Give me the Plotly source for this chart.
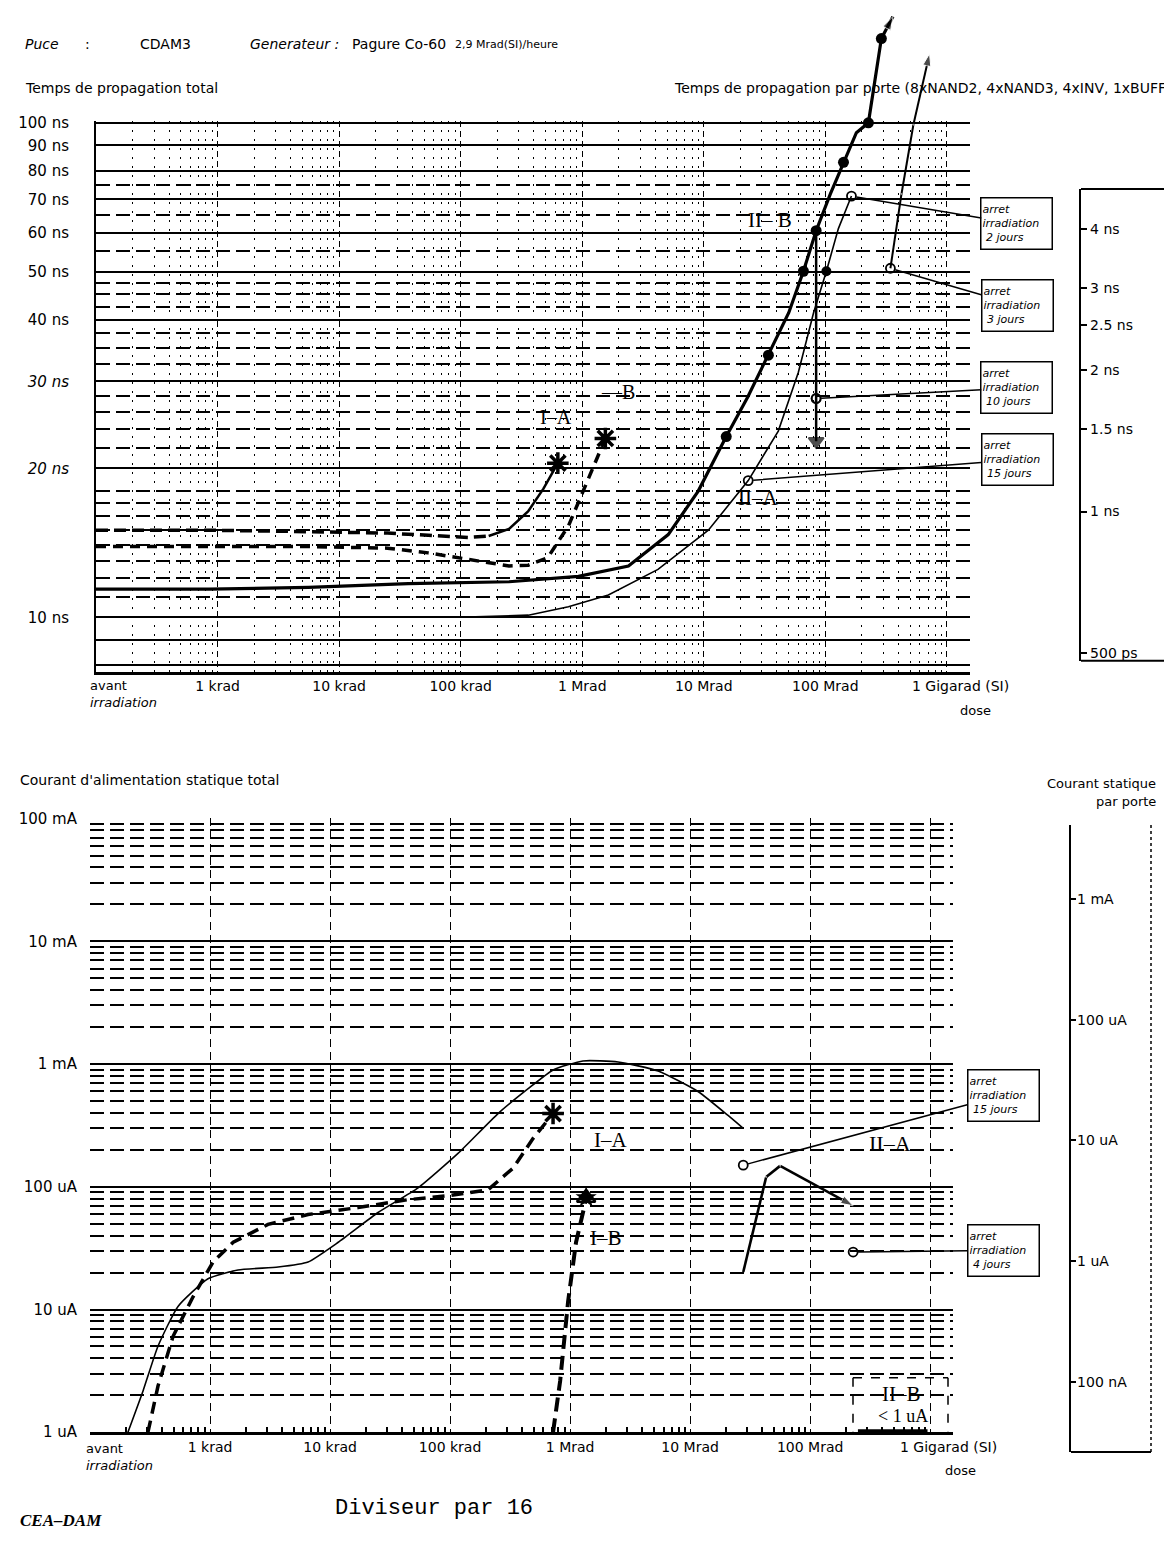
import math
import plotly.graph_objects as go

W, H = 1172, 1545

# ---------------- data ----------------
# dose in rad(Si); 100 rad is the "avant irradiation" position
xtick_doses = [1e2, 1e3, 1e4, 1e5, 1e6, 1e7, 1e8, 1e9]
xtick_text = ["", "1 krad", "10 krad", "100 krad", "1 Mrad", "10 Mrad", "100 Mrad", ""]

top_tick_vals = [8, 9, 10, 20, 30, 40, 50, 60, 70, 80, 90, 100]
top_tick_text = ["", "", "10 ns", "<i>20 ns</i>", "<i>30 ns</i>", "40 ns", "50 ns", "60 ns",
                 "70 ns", "80 ns", "90 ns", "100 ns"]
top_minor_vals = [11, 12, 13, 14, 15, 16, 17, 18, 22, 24, 26, 28, 32.5, 35, 37.5,
                  42.5, 45, 47.5, 55, 65, 75]

gate_tick_vals = [0.5, 1, 1.5, 2, 2.5, 3, 4]
gate_tick_text = ["500 ps", "1 ns", "1.5 ns", "2 ns", "2.5 ns", "3 ns", "4 ns"]

bot_tick_vals = [1e-6, 1e-5, 1e-4, 1e-3, 1e-2, 1e-1]
bot_tick_text = ["1 uA", "10 uA", "100 uA", "1 mA", "10 mA", "100 mA"]
gate_cur_vals = [1e-7, 1e-6, 1e-5, 1e-4, 1e-3]
gate_cur_text = ["100 nA", "1 uA", "10 uA", "100 uA", "1 mA"]

# --- top panel: total propagation time (ns)
dose_IA_top = [100, 850, 5600, 25000, 54000, 115000, 170000, 250000, 360000, 480000, 630000]
t_IA_top = [15.0, 15.0, 14.9, 14.8, 14.65, 14.5, 14.6, 15.1, 16.4, 18.2, 20.5]

dose_IB_top = [100, 850, 5600, 25000, 54000, 115000, 250000, 360000, 520000, 770000,
               1.02e6, 1.35e6, 1.55e6]
t_IB_top = [13.9, 13.9, 13.9, 13.8, 13.5, 13.1, 12.7, 12.75, 13.2, 15.3, 18.0, 21.2, 23.0]

dose_IIB_top = [100, 850, 5600, 37000, 250000, 930000, 2.4e6, 5.1e6, 9.0e6, 1.53e7, 2.3e7,
                3.4e7, 5.0e7, 6.6e7, 8.4e7, 1.1e8, 1.41e8, 1.8e8, 2.26e8, 2.89e8, 3.6e8]
t_IIB_top = [11.4, 11.4, 11.5, 11.7, 11.8, 12.1, 12.7, 14.7, 18.0, 23.2, 27.9,
             33.9, 41.3, 50.1, 60.5, 71.8, 83.2, 95.5, 100, 148, 164]
dose_IIB_pts = [1.53e7, 3.4e7, 6.6e7, 8.4e7, 1.41e8, 2.26e8, 2.89e8]
t_IIB_pts = [23.2, 33.9, 50.1, 60.5, 83.2, 100, 148]

dose_IIB_stop = [8.4e7, 8.4e7, 8.4e7]
t_IIB_stop = [60.5, 27.7, 22.7]

dose_IIA_top = [100, 5600, 95000, 360000, 770000, 1.64e6, 4.2e6, 1.09e7, 2.32e7, 4.1e7,
                6.0e7, 8.0e7, 1.02e8, 1.28e8, 1.64e8]
t_IIA_top = [10.0, 10.0, 10.0, 10.1, 10.5, 11.1, 12.5, 15.0, 18.9, 23.8,
             31.3, 41.3, 50.1, 61.1, 71.1]
dose_IIA_pt = [1.02e8]
t_IIA_pt = [50.1]

dose_3j_top = [3.43e8, 4.23e8, 5.3e8, 7.2e8]
t_3j_top = [50.8, 71.8, 99.1, 138.0]

stop_top_dose = [1.64e8, 3.43e8, 8.4e7, 2.32e7]
stop_top_t = [71.1, 50.8, 27.7, 18.9]
stop_top_days = ["2 jours", "3 jours", "10 jours", "15 jours"]

# --- bottom panel: total static supply current (A)
dose_IIA_bot = [207, 277, 369, 541, 962, 1710, 3690, 6560, 11700, 25100, 54100, 117000,
                251000, 447000, 721000, 1.28e6, 2.51e6, 5.41e6, 1.17e7, 2.07e7, 2.77e7]
i_IIA_bot = [1.0e-6, 2.18e-6, 5.04e-6, 1.06e-5, 1.78e-5, 2.1e-5, 2.22e-5, 2.44e-5, 3.53e-5,
             6.17e-5, 9.8e-5, 1.88e-4, 3.95e-4, 6.29e-4, 8.95e-4, 1.06e-3, 1.04e-3,
             8.78e-4, 5.95e-4, 3.81e-4, 2.99e-4]

dose_IIA_res = [2.77e7, 4.3e7, 5.62e7, 2.28e8]
i_IIA_res = [2.02e-5, 1.2e-4, 1.48e-4, 7.0e-5]

dose_IA_bot = [304, 369, 492, 722, 1060, 1560, 3040, 6560, 17100, 44700, 96200, 207000,
               335000, 492000, 721000]
i_IA_bot = [1.0e-6, 2.39e-6, 6.05e-6, 1.27e-5, 2.44e-5, 3.53e-5, 4.94e-5, 5.94e-5, 6.77e-5,
            7.85e-5, 8.45e-5, 9.45e-5, 1.42e-4, 2.48e-4, 3.95e-4]

dose_IB_bot = [721000, 826000, 962000, 1.12e6, 1.28e6, 1.36e6]
i_IB_bot = [1.0e-6, 2.62e-6, 1.16e-5, 3.53e-5, 6.17e-5, 8.15e-5]

dose_IIB_bot = [2.5e8, 9.5e8]
i_IIB_bot = [1.0e-6, 1.0e-6]

stop_bot_dose = [2.77e7, 2.28e8]
stop_bot_i = [1.5e-4, 2.94e-5]
stop_bot_days = ["15 jours", "4 jours"]

# ---------------- geometry ----------------
SANS = "DejaVu Sans, Liberation Sans, sans-serif"
SERIF = "Liberation Serif, DejaVu Serif, serif"
MONO = "Liberation Mono, DejaVu Sans Mono, monospace"


def fx(p):
    return p / W


def fy(p):
    return 1 - p / H


XR = [2.0, 9.19]
TX0, TX1, TY0, TY1 = 88, 962, 106, 663
TYR = [0.89, 2.004]
BX0, BX1, BY0, BY1 = 82, 945, 811, 1432
BYR = [-6.0, -0.996]
G1R = [-0.318, 0.687]
G2R = [-7.582, -2.385]
T_PER_PX = (TYR[1] - TYR[0]) / (TY1 - TY0)


def top_pix(d, v):
    X = TX0 + (math.log10(d) - XR[0]) / (XR[1] - XR[0]) * (TX1 - TX0)
    Y = TY1 - (math.log10(v) - TYR[0]) / (TYR[1] - TYR[0]) * (TY1 - TY0)
    return X, Y


def bot_pix(d, v):
    X = BX0 + (math.log10(d) - XR[0]) / (XR[1] - XR[0]) * (BX1 - BX0)
    Y = BY1 - (math.log10(v) - BYR[0]) / (BYR[1] - BYR[0]) * (BY1 - BY0)
    return X, Y


dose_minor = [k * 10 ** n for n in range(2, 9) for k in range(2, 10)]
cur_minor = [k * 10.0 ** n for n in range(-6, -1) for k in range(2, 10)]

fig = go.Figure()
K = "black"
T = dict(xaxis="x5", yaxis="y5", cliponaxis=False, hoverinfo="skip", showlegend=False)
B = dict(xaxis="x2", yaxis="y2", cliponaxis=False, hoverinfo="skip", showlegend=False)

# ----- top panel traces
fig.add_trace(go.Scatter(x=dose_IA_top[:7], y=t_IA_top[:7], mode="lines",
                         line=dict(color=K, width=3.5, dash="12px,6px"), **T))
fig.add_trace(go.Scatter(x=dose_IA_top[6:], y=t_IA_top[6:], mode="lines",
                         line=dict(color=K, width=2.5), **T))
fig.add_trace(go.Scatter(x=dose_IB_top, y=t_IB_top, mode="lines",
                         line=dict(color=K, width=3.5, dash="10px,7px"), **T))
fig.add_trace(go.Scatter(x=[dose_IA_top[-1], dose_IB_top[-1]], y=[t_IA_top[-1], t_IB_top[-1]],
                         mode="markers",
                         marker=dict(symbol="asterisk-open", size=18, color=K,
                                     line=dict(color=K, width=3.5)), **T))
fig.add_trace(go.Scatter(x=dose_IIB_top, y=t_IIB_top, mode="lines",
                         line=dict(color=K, width=3.2), **T))
fig.add_trace(go.Scatter(x=dose_IIB_pts, y=t_IIB_pts, mode="markers",
                         marker=dict(symbol="circle", size=11, color=K), **T))
fig.add_trace(go.Scatter(x=dose_IIB_top[-2:], y=t_IIB_top[-2:], mode="markers",
                         marker=dict(symbol=["circle", "arrow"], size=[1, 14], color=K,
                                     angleref="previous"), **T))
fig.add_trace(go.Scatter(x=dose_IIB_stop, y=t_IIB_stop, mode="lines+markers",
                         line=dict(color=K, width=2.5),
                         marker=dict(symbol=["circle", "circle-open", "triangle-down"],
                                     size=[1, 9, 13], color=K, line=dict(color=K, width=2)), **T))
fig.add_trace(go.Scatter(x=dose_IIA_top, y=t_IIA_top, mode="lines",
                         line=dict(color=K, width=1.6), **T))
fig.add_trace(go.Scatter(x=dose_IIA_pt, y=t_IIA_pt, mode="markers",
                         marker=dict(symbol="circle", size=10, color=K), **T))
fig.add_trace(go.Scatter(x=dose_3j_top, y=t_3j_top, mode="lines+markers",
                         line=dict(color=K, width=2),
                         marker=dict(symbol=["circle", "circle", "circle", "arrow"],
                                     size=[1, 1, 1, 13], color=K, angleref="previous"), **T))
fig.add_trace(go.Scatter(x=stop_top_dose, y=stop_top_t, mode="markers",
                         marker=dict(symbol="circle-open", size=9, color=K,
                                     line=dict(color=K, width=1.8)), **T))

# ----- bottom panel traces
fig.add_trace(go.Scatter(x=dose_IIA_bot, y=i_IIA_bot, mode="lines",
                         line=dict(color=K, width=1.6, shape="spline", smoothing=0.5), **B))
fig.add_trace(go.Scatter(x=dose_IIA_res, y=i_IIA_res, mode="lines+markers",
                         line=dict(color=K, width=2.6),
                         marker=dict(symbol=["circle", "circle", "circle", "arrow"],
                                     size=[1, 1, 1, 13], color=K, angleref="previous"), **B))
fig.add_trace(go.Scatter(x=dose_IA_bot, y=i_IA_bot, mode="lines",
                         line=dict(color=K, width=3.5, dash="12px,7px"), **B))
fig.add_trace(go.Scatter(x=[dose_IA_bot[-1]], y=[i_IA_bot[-1]], mode="markers",
                         marker=dict(symbol="asterisk-open", size=18, color=K,
                                     line=dict(color=K, width=3.5)), **B))
fig.add_trace(go.Scatter(x=dose_IB_bot, y=i_IB_bot, mode="lines",
                         line=dict(color=K, width=4, dash="14px,7px"), **B))
fig.add_trace(go.Scatter(x=[dose_IB_bot[-1]], y=[i_IB_bot[-1]], mode="markers",
                         marker=dict(symbol="star", size=16, color=K), **B))
fig.add_trace(go.Scatter(x=[dose_IB_bot[-1]], y=[i_IB_bot[-1]], mode="markers",
                         marker=dict(symbol="triangle-up-open", size=16, color=K,
                                     line=dict(color=K, width=2.5)), **B))
fig.add_trace(go.Scatter(x=dose_IIB_bot, y=i_IIB_bot, mode="lines",
                         line=dict(color=K, width=6), **B))
fig.add_trace(go.Scatter(x=stop_bot_dose, y=stop_bot_i, mode="markers",
                         marker=dict(symbol="circle-open", size=9, color=K,
                                     line=dict(color=K, width=1.8)), **B))

# invisible anchors so the per-gate scale boxes get drawn
fig.add_trace(go.Scatter(x=[0.5], y=[gate_tick_vals[1]], xaxis="x3", yaxis="y3", mode="markers",
                         marker=dict(opacity=0), hoverinfo="skip", showlegend=False))
fig.add_trace(go.Scatter(x=[0.5], y=[gate_cur_vals[1]], xaxis="x4", yaxis="y4", mode="markers",
                         marker=dict(opacity=0), hoverinfo="skip", showlegend=False))

# ---------------- annotations ----------------
ann = []


def text(x, y, s, size=14, xanchor="left", yanchor="middle", family=SANS, align="left"):
    ann.append(dict(x=fx(x), y=fy(y), xref="paper", yref="paper", text=s, showarrow=False,
                    xanchor=xanchor, yanchor=yanchor, align=align,
                    font=dict(family=family, size=size, color=K)))


def callout(xref, yref, d, v, pix, bx, by, days):
    X, Y = pix(d, v)
    ann.append(dict(x=math.log10(d), y=math.log10(v), xref=xref, yref=yref,
                    text="<i>arret<br>irradiation<br>\u00a0" + days + "</i>",
                    showarrow=True, arrowhead=0, arrowwidth=1.5, arrowcolor=K,
                    ax=bx - X, ay=by - Y, axref="pixel", ayref="pixel", standoff=5,
                    bordercolor=K, borderwidth=1.5, borderpad=1, bgcolor="white",
                    width=68, height=48, align="left", xanchor="center", yanchor="middle",
                    font=dict(family=SANS, size=11, color=K)))


top_boxes = [(1009, 210), (1009, 292), (1009, 376), (1009, 449)]
for (bx, by), d, v, days in zip(top_boxes, stop_top_dose, stop_top_t, stop_top_days):
    callout("x", "y", d, v, top_pix, bx, by, days)
bot_boxes = [(995, 1092), (995, 1248)]
for (bx, by), d, v, days in zip(bot_boxes, stop_bot_dose, stop_bot_i, stop_bot_days):
    callout("x2", "y2", d, v, bot_pix, bx, by, days)

# header
text(15, 28, "<i>Puce</i>", 14)
text(75, 28, ":", 14)
text(130, 28, "CDAM3", 14)
text(240, 28, "<i>Generateur :</i>", 14)
text(342, 28, "Pagure Co-60", 14)
text(445, 29, "2,9 Mrad(SI)/heure", 11)
text(15, 73, "Temps de propagation total", 14)
text(1166, 73, "Temps de propagation par porte (8xNAND2, 4xNAND3, 4xINV, 1xBUFF)", 14, xanchor="right")
text(80, 686, "avant<br><i>irradiation</i>", 13, yanchor="middle")
text(902, 677, "1 Gigarad (SI)", 14)
text(950, 702, "dose", 13)
text(10, 772, "Courant d'alimentation statique total", 14)
text(1150, 776, "Courant statique", 13, xanchor="right")
text(1150, 794, "par porte", 13, xanchor="right")
text(76, 1457, "avant<br><i>irradiation</i>", 13, yanchor="middle")
text(890, 1447, "1 Gigarad (SI)", 14)
text(935, 1471, "dose", 13)
text(10, 1521, "<b><i>CEA\u2013DAM</i></b>", 17, family=SERIF)
text(325, 1509, "Diviseur par 16", 22, family=MONO)

# curve labels
text(548, 405, "I\u2013A", 20, xanchor="center", family=SERIF)
text(610, 380, "\u2014B", 20, xanchor="center", family=SERIF)
text(762, 206, "II\u2013 B", 21, xanchor="center", family=SERIF)
text(750, 487, "II\u2013A", 21, xanchor="center", family=SERIF)
text(602, 1136, "I\u2013A", 21, xanchor="center", family=SERIF)
text(598, 1236, "I\u2013B", 21, xanchor="center", family=SERIF)
text(882, 1140, "II\u2013A", 22, xanchor="center", family=SERIF)
text(893, 1393, "II\u2013B", 21, xanchor="center", family=SERIF)
text(895, 1416, "&lt; 1 uA", 18, xanchor="center", family=SERIF)


# ---------------- shapes (frames) ----------------
def pline(x0, y0, x1, y1, width=2, dash="solid"):
    return dict(type="line", xref="paper", yref="paper", x0=fx(x0), y0=fy(y0), x1=fx(x1), y1=fy(y1),
                line=dict(color=K, width=width, dash=dash))


shapes = [
    pline(1073, 175, 1157, 175, 2), pline(1073, 652, 1157, 652, 2),
    pline(1157, 175, 1157, 652, 1.5, "dot"),
    pline(1063, 1452, 1143, 1452, 2), pline(1143, 818, 1143, 1452, 1.5, "dot"),
    pline(845, 1377, 940, 1377, 1.5, "dash"), pline(845, 1377, 845, 1432, 1.5, "dash"),
    pline(940, 1377, 940, 1432, 1.5, "dash"),
]

tf = dict(family=SANS, size=14, color=K)
ytf = dict(family=SANS, size=15, color=K)

layout = dict(
    width=W, height=H, autosize=False, margin=dict(l=0, r=0, t=0, b=0, pad=0),
    paper_bgcolor="white", plot_bgcolor="rgba(0,0,0,0)", showlegend=False,
    annotations=ann, shapes=shapes, hovermode=False,
    xaxis=dict(domain=[fx(TX0), fx(TX1)], type="log", range=XR, anchor="y",
               tickmode="array", tickvals=xtick_doses, ticktext=xtick_text, tickfont=tf,
               showgrid=True, gridcolor=K, gridwidth=1, griddash="6px,4px",
               showline=True, linecolor=K, linewidth=2.5, ticks="", zeroline=False,
               minor=dict(tickmode="array", tickvals=dose_minor, showgrid=True,
                          gridcolor=K, gridwidth=1, griddash="2px,7px")),
    yaxis=dict(domain=[fy(TY1), fy(TY0)], type="log", range=TYR, anchor="x",
               tickmode="array", tickvals=top_tick_vals, ticktext=top_tick_text, tickfont=ytf,
               showgrid=True, gridcolor=K, gridwidth=1.7,
               showline=True, linecolor=K, linewidth=2, ticks="", ticklabelstandoff=22,
               zeroline=False,
               minor=dict(tickmode="array", tickvals=top_minor_vals, showgrid=True,
                          gridcolor=K, gridwidth=1.6, griddash="14px,6px",
                          ticks="inside", ticklen=5, tickcolor=K, tickwidth=1.5)),
    xaxis5=dict(domain=[fx(TX0), fx(TX1)], type="log", range=XR, anchor="y5", visible=False),
    yaxis5=dict(domain=[fy(TY1), 1.0], type="log", range=[TYR[0], TYR[1] + TY0 * T_PER_PX],
                anchor="x5", visible=False),
    xaxis2=dict(domain=[fx(BX0), fx(BX1)], type="log", range=XR, anchor="y2",
                tickmode="array", tickvals=xtick_doses, ticktext=xtick_text, tickfont=tf,
                showgrid=True, gridcolor=K, gridwidth=1, griddash="8px,5px",
                showline=True, linecolor=K, linewidth=3, ticks="", zeroline=False,
                minor=dict(tickmode="array", tickvals=dose_minor, ticks="inside", ticklen=5,
                           tickcolor=K, tickwidth=1.5, showgrid=False)),
    yaxis2=dict(domain=[fy(BY1), fy(BY0)], type="log", range=BYR, anchor="x2",
                tickmode="array", tickvals=bot_tick_vals, ticktext=bot_tick_text, tickfont=ytf,
                showgrid=True, gridcolor=K, gridwidth=1.8,
                showline=False, ticks="", ticklabelstandoff=12, zeroline=False,
                minor=dict(tickmode="array", tickvals=cur_minor, showgrid=True,
                           gridcolor=K, gridwidth=1.8, griddash="14px,6px")),
    xaxis3=dict(domain=[fx(1073), fx(1157)], range=[0, 1], anchor="y3", visible=False),
    yaxis3=dict(domain=[fy(652), fy(175)], type="log", range=G1R, anchor="x3",
                tickmode="array", tickvals=gate_tick_vals, ticktext=gate_tick_text,
                tickfont=dict(family=SANS, size=14, color=K),
                ticks="inside", ticklen=6, tickcolor=K, tickwidth=1.5,
                ticklabelposition="inside", ticklabelstandoff=3, ticklabeloverflow="allow",
                showline=True, linecolor=K, linewidth=1.8, showgrid=False, zeroline=False),
    xaxis4=dict(domain=[fx(1063), fx(1143)], range=[0, 1], anchor="y4", visible=False),
    yaxis4=dict(domain=[fy(1452), fy(818)], type="log", range=G2R, anchor="x4",
                tickmode="array", tickvals=gate_cur_vals, ticktext=gate_cur_text,
                tickfont=dict(family=SANS, size=14, color=K),
                ticks="inside", ticklen=5, tickcolor=K, tickwidth=1.5,
                ticklabelposition="inside", ticklabelstandoff=1, ticklabeloverflow="allow",
                showline=True, linecolor=K, linewidth=1.8, showgrid=False, zeroline=False),
)
fig.update_layout(**layout)
fig.write_html("out.html")
